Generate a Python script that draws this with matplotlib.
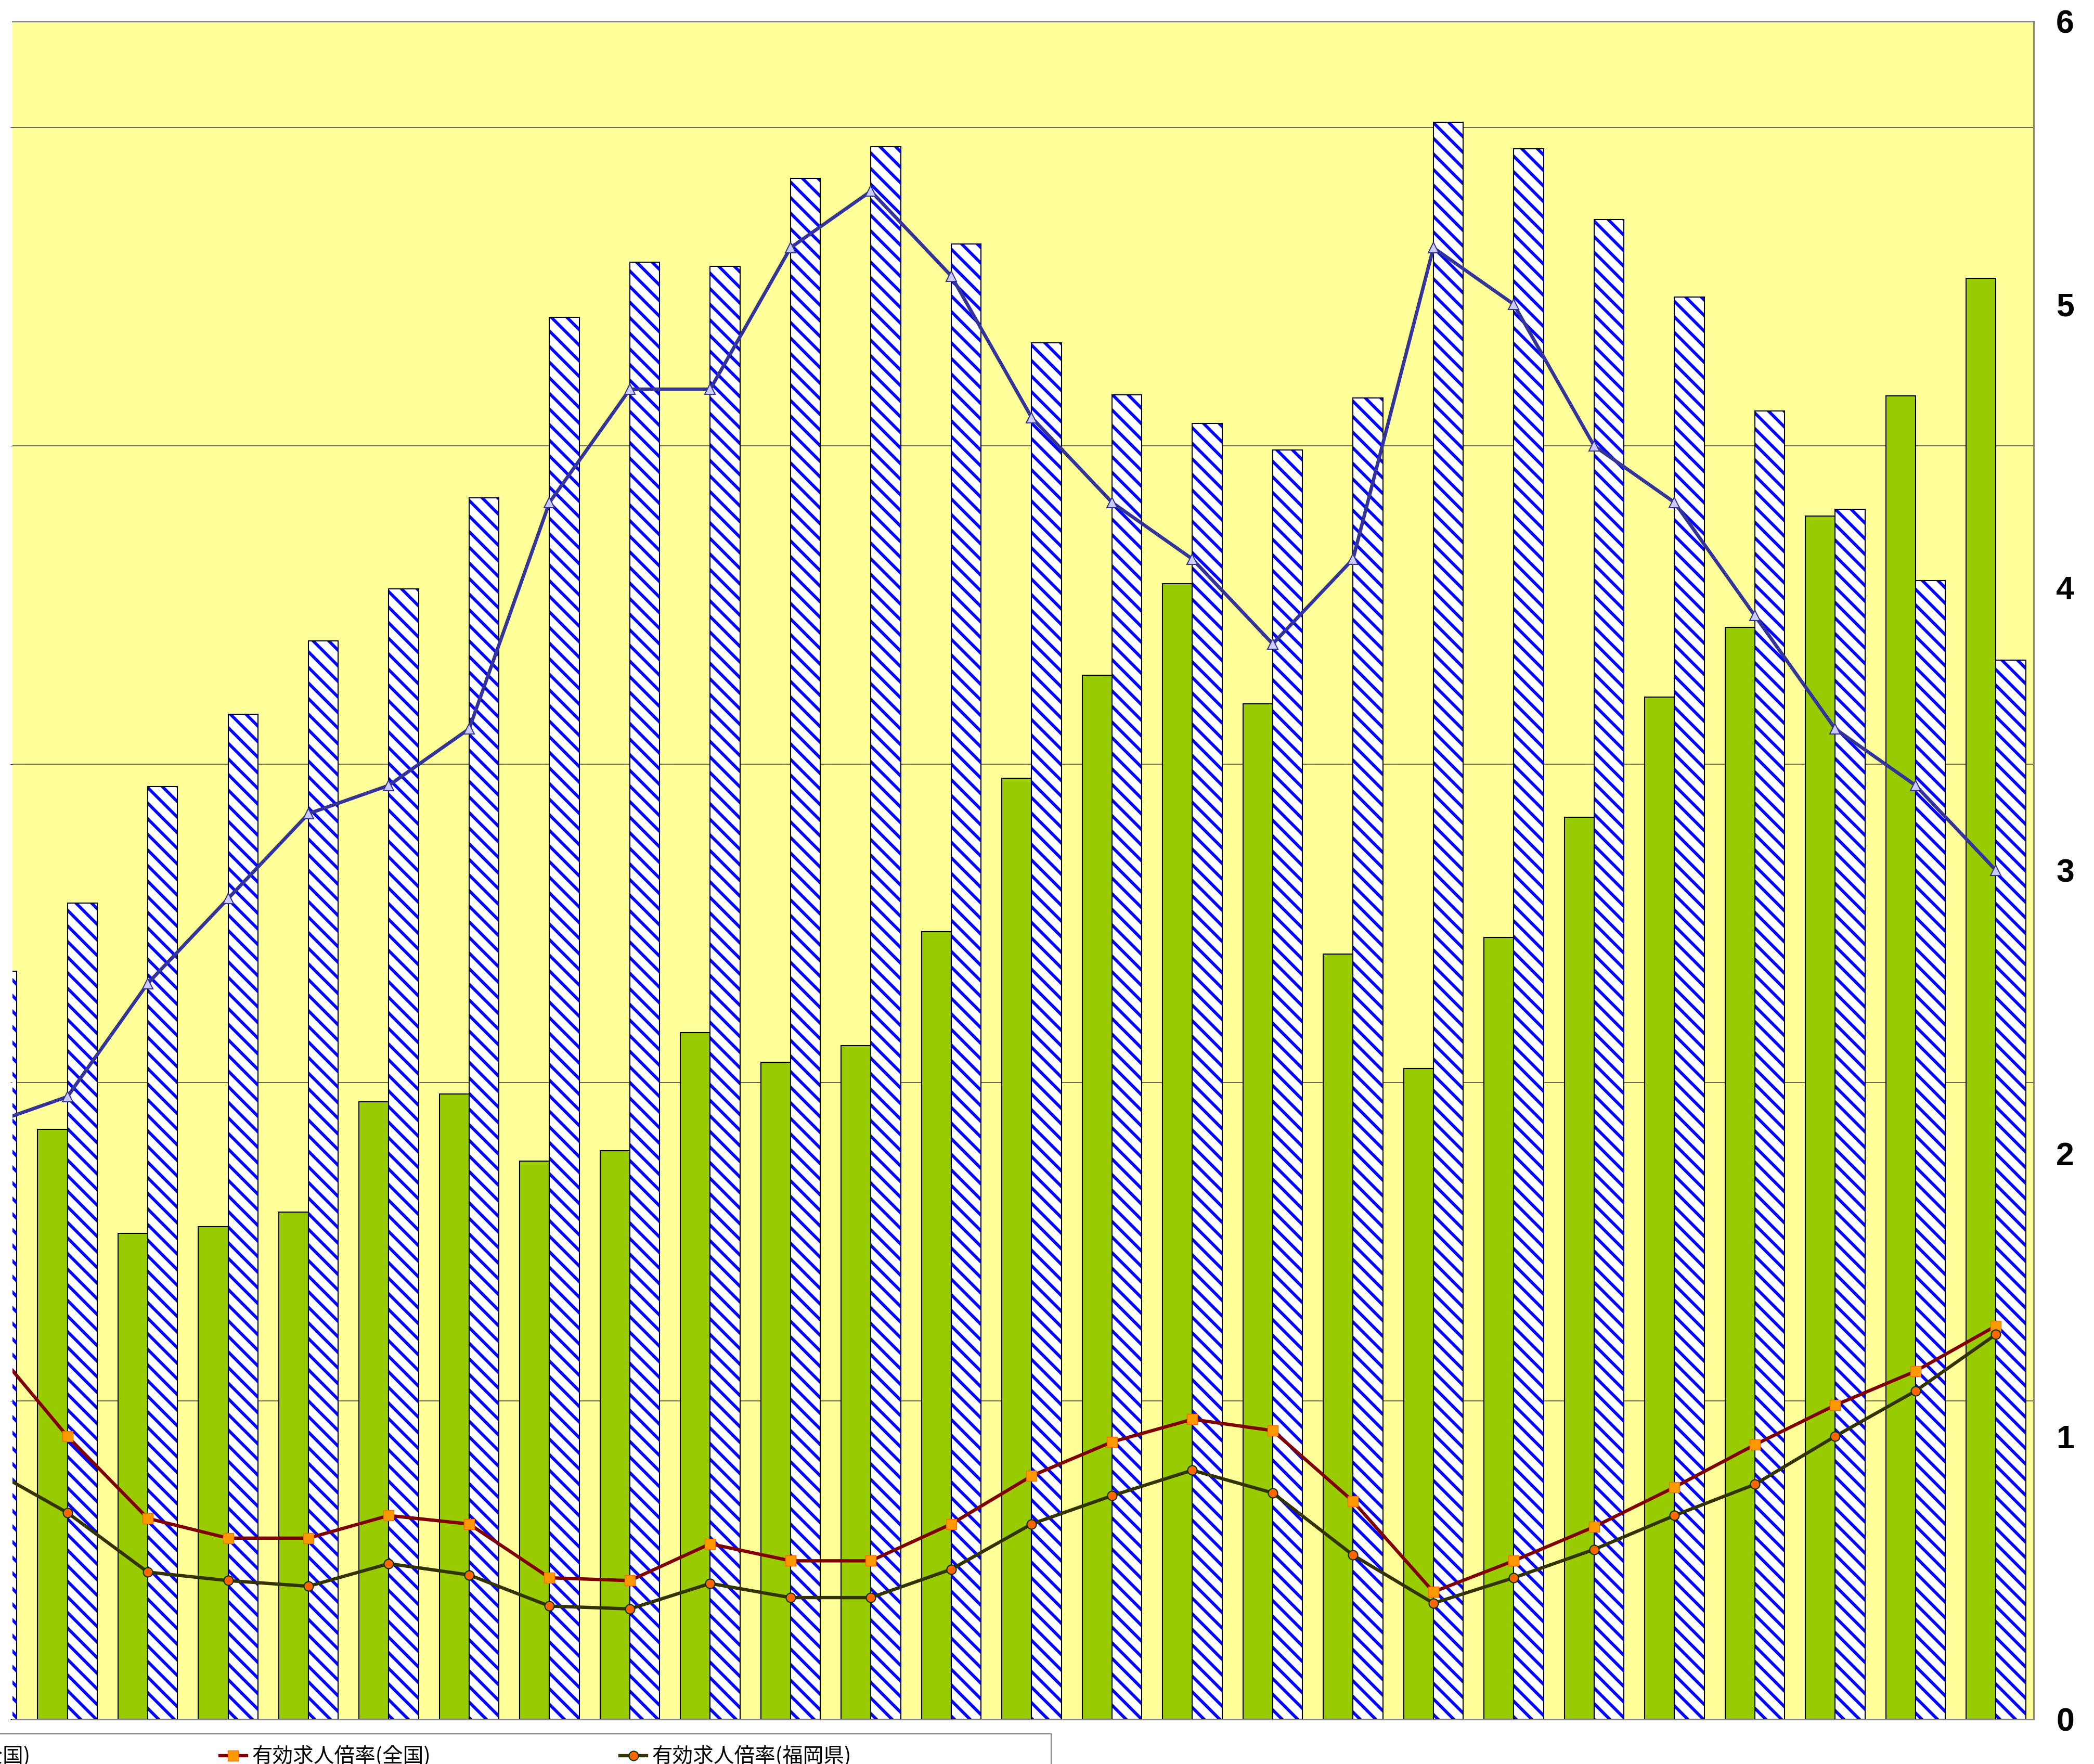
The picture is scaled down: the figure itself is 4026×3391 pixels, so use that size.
import matplotlib
matplotlib.use("Agg")
import matplotlib.pyplot as plt
from matplotlib.patches import Rectangle
import numpy as np

W, H = 4026, 3391
DPI = 90
S = 100 / DPI  # sizes below were tuned in points at 100 dpi

# fiscal years (first one is only partly visible at the left edge)
fiscal_years = list(range(1991, 2017))
# 有効求人数 / 有効求職者数 (福岡県), left axis
kyujin = [62700, 55600, 45800, 46400, 47800, 58200, 58900, 52600, 53600, 64700,
          61900, 63500, 74200, 88700, 98400, 107000, 95700, 72100, 61300, 73700,
          85000, 96300, 102900, 113400, 124700, 135800]
kyushoku = [70500, 76900, 87900, 94700, 101600, 106500, 115100, 132100, 137300, 136900,
            145200, 148200, 139000, 129700, 124800, 122100, 119600, 124500, 150500, 148000,
            141300, 134000, 123300, 114000, 107300, 99800]
# right axis
shitsugyo = [2.1, 2.2, 2.6, 2.9, 3.2, 3.3, 3.5, 4.3, 4.7, 4.7, 5.2, 5.4, 5.1, 4.6, 4.3,
             4.1, 3.8, 4.1, 5.2, 5.0, 4.5, 4.3, 3.9, 3.5, 3.3, 3.0]
bairitsu_zenkoku = [1.34, 1.00, 0.71, 0.64, 0.64, 0.72, 0.69, 0.50, 0.49, 0.62, 0.56, 0.56, 0.69,
                    0.86, 0.98, 1.06, 1.02, 0.77, 0.45, 0.56, 0.68, 0.82, 0.97, 1.11, 1.23, 1.39]
bairitsu_fukuoka = [0.89, 0.73, 0.52, 0.49, 0.47, 0.55, 0.51, 0.40, 0.39, 0.48, 0.43, 0.43, 0.53,
                    0.69, 0.79, 0.88, 0.80, 0.58, 0.41, 0.50, 0.60, 0.72, 0.83, 1.00, 1.16, 1.36]
# only the tail of the legend is inside the crop
legend_labels = ["完全失業率(全国)", "有効求人倍率(全国)", "有効求人倍率(福岡県)"]

plt.rcParams["hatch.linewidth"] = 4.2 * S

fig = plt.figure(figsize=(W / DPI, H / DPI), dpi=DPI)
fig.patch.set_facecolor("white")
ax = fig.add_axes([24 / W, 1 - 3305 / H, (3910 - 24) / W, (3305 - 41) / H])
ax.set_facecolor("#FFFF99")

x = np.arange(len(fiscal_years))
bw = 0.37
ax.bar(x, kyujin, width=-bw, align="edge", color="#99CC00", edgecolor="black", lw=1.5 * S, zorder=2)
ax.bar(x, kyushoku, width=bw, align="edge", color="white", edgecolor="#0000FF",
       hatch="\\", lw=0, zorder=2)
ax.bar(x, kyushoku, width=bw, align="edge", fill=False, edgecolor="black", lw=1.5 * S, zorder=3)

ax.set_ylim(0, 160000)
ax.set_yticks(np.arange(0, 160001, 30000))
ax.grid(axis="y", color="#505040", lw=1.2 * S)
ax.set_axisbelow(True)
ax.set_xlim(0.317, 25.47)
ax.tick_params(left=False, labelleft=False, bottom=False, labelbottom=False)
ax.spines["left"].set_visible(False)
for s in ["top", "right", "bottom"]:
    ax.spines[s].set_color("#888888")
    ax.spines[s].set_linewidth(2.2 * S)

ax2 = ax.twinx()
ax2.set_ylim(0, 6)
ax2.set_yticks(range(7))
l_shitsu, = ax2.plot(x, shitsugyo, color="#333399", lw=4.8 * S, marker="^", ms=15 * S,
                     mfc="#CCCCFF", mec="#333399", mew=1.5 * S)
l_zen, = ax2.plot(x, bairitsu_zenkoku, color="#800000", lw=4.6 * S, marker="s", ms=14 * S,
                  mfc="#FF9900", mec="#FF6600", mew=1 * S)
l_fuk, = ax2.plot(x, bairitsu_fukuoka, color="#333300", lw=4.6 * S, marker="o", ms=13 * S,
                  mfc="#FF6600", mec="#003300", mew=1.5 * S)
ax2.tick_params(axis="y", length=0, pad=31 * S, labelsize=45 * S)
ax2.tick_params(bottom=False, labelbottom=False)
for lab in ax2.get_yticklabels():
    lab.set_fontfamily("Liberation Sans")
    lab.set_fontweight("bold")
for s in ax2.spines.values():
    s.set_visible(False)

leg = fig.legend([l_shitsu, l_zen, l_fuk], legend_labels, ncol=3, loc="center left",
                 bbox_to_anchor=(0, 0), frameon=False,
                 prop={"family": ["Noto Sans CJK JP", "DejaVu Sans"], "size": 28.5 * S},
                 handlelength=1.3, handletextpad=0.25, columnspacing=9.2,
                 borderpad=0, borderaxespad=0)

# shift the legend so that the "全国" entry lands where it is in the original crop
fig.canvas.draw()
bb = leg.get_texts()[1].get_window_extent()
dx = 484 - bb.x0
dy = (H - 3377) - (bb.y0 + bb.y1) / 2
lb = leg.get_window_extent()
leg.set_bbox_to_anchor(((lb.x0 + dx) / W, (lb.y0 + lb.y1) / 2 / H + dy / H), transform=fig.transFigure)

fig.patches.append(Rectangle((-0.01, -0.05), 0.01 + 2021 / W, 0.05 + (H - 3333) / H,
                             transform=fig.transFigure, fill=False,
                             edgecolor="#808080", lw=1.6 * S))

fig.savefig("out.png", dpi=DPI)
